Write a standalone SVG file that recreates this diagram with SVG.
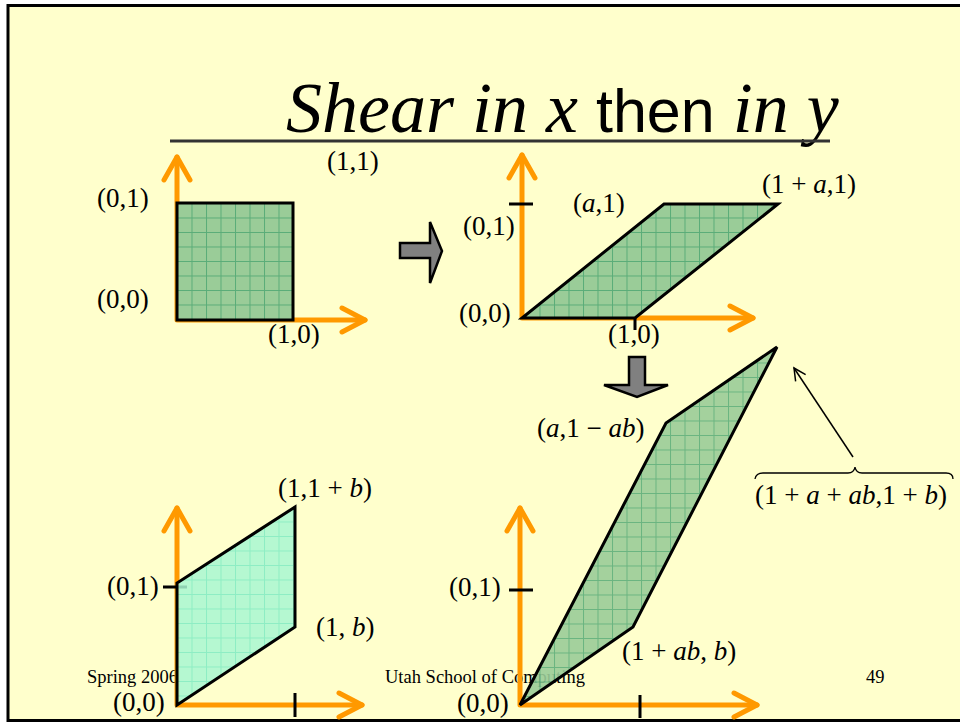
<svg xmlns="http://www.w3.org/2000/svg" width="960" height="723" viewBox="0 0 960 723">
<style>
.lbl{font-family:"Liberation Serif","Times New Roman",serif;font-size:27px;fill:#000}
.it{font-style:italic}
.foot{font-family:"Liberation Serif","Times New Roman",serif;font-size:18.5px;fill:#000}
.axis{stroke:#FF9900;stroke-width:5;fill:none;stroke-linejoin:round;stroke-linecap:round}
.head{stroke:#FF9900;stroke-width:5;fill:none;stroke-linejoin:round;stroke-linecap:round}
.tick{stroke:#000;stroke-width:3;fill:none}
.shape{stroke:#000;stroke-width:3;stroke-linejoin:miter}
.block{fill:#808080;stroke:#000;stroke-width:2.5;stroke-linejoin:miter}
</style>
<defs>
<pattern id="gridG" patternUnits="userSpaceOnUse" x="177" y="203" width="14.5" height="14.5">
<rect width="14.5" height="14.5" fill="#9ACC98"/>
<path d="M0,0.5 H14.5 M0.5,0 V14.5" stroke="#3E9E6A" stroke-width="1" opacity="0.7"/>
</pattern>
<pattern id="gridA" patternUnits="userSpaceOnUse" x="177" y="507" width="14.5" height="14.5">
<rect width="14.5" height="14.5" fill="#A8F7D2"/>
<path d="M0,0.5 H14.5 M0.5,0 V14.5" stroke="#6EE8BE" stroke-width="1" opacity="0.8"/>
</pattern>
<marker id="thin" markerUnits="userSpaceOnUse" markerWidth="20" markerHeight="20" refX="0" refY="0" viewBox="-15 -10 20 20" orient="auto">
<path d="M-12,-6 L0,0 L-12,6" fill="none" stroke="#000" stroke-width="1.5"/>
</marker>
</defs>

<rect x="0" y="0" width="960" height="723" fill="#FFFFFF"/>
<rect id="frame" x="8" y="5.5" width="960" height="715" fill="#FFFFCC" stroke="#000" stroke-width="3"/>

<g id="title">
<text x="286" y="132" font-size="72" font-family="'Liberation Serif','Times New Roman',serif" font-style="italic">Shear in x <tspan font-family="'Liberation Sans',Arial,sans-serif" font-style="normal" font-size="61">then</tspan> in y</text>
<line x1="170" y1="141" x2="830" y2="141" stroke="#333" stroke-width="3"/>
</g>

<g id="footer">
<text class="foot" x="87" y="683">Spring 2006</text>
<text class="foot" x="385" y="683">Utah School of Computing</text>
<text class="foot" x="866" y="683">49</text>
</g>

<!-- Top-left: unit square -->
<g id="panel-original">
<g id="axes-tl">
<path class="axis" d="M177,320 V157 M177,320 H365"/>
<path class="head" d="M164,180 L177,157 L190,180 M342,308 L365,320 L342,332"/>
</g>
<rect id="square" class="shape" x="177" y="203" width="116" height="117" fill="url(#gridG)"/>
<text class="lbl" x="327" y="170" font-size="24">(1,1)</text>
<text class="lbl" x="97" y="207">(0,1)</text>
<text class="lbl" x="97" y="308">(0,0)</text>
<text class="lbl" x="268" y="343">(1,0)</text>
</g>

<!-- Top-right: shear in x -->
<g id="panel-shear-x">
<g id="axes-tr">
<path class="axis" d="M522,318 V155 M522,318 H753"/>
<path class="head" d="M509,178 L522,155 L535,178 M730,306 L753,318 L730,330"/>
<path class="tick" d="M509,204 H533 M635,307 V330"/>
</g>
<polygon id="shear-x-shape" class="shape" points="522,318 635,318 778,204 664,204" fill="url(#gridG)"/>
<text class="lbl" x="463" y="235">(0,1)</text>
<text class="lbl" x="573" y="212">(<tspan class="it">a</tspan>,1)</text>
<text class="lbl" x="762" y="193">(1 + <tspan class="it">a</tspan>,1)</text>
<text class="lbl" x="459" y="322">(0,0)</text>
<text class="lbl" x="608" y="343">(1,0)</text>
</g>

<!-- Bottom-left: shear in y -->
<g id="panel-shear-y">
<g id="axes-bl">
<path class="axis" d="M177,705 V508 M177,705 H362"/>
<path class="head" d="M164,531 L177,508 L190,531 M339,693 L362,705 L339,717"/>
<path class="tick" d="M163,587 H187 M295,693 V717"/>
</g>
<polygon id="shear-y-shape" class="shape" points="177,705 295,627 295,507 177,583" fill="url(#gridA)" fill-opacity="0.85"/>
<text class="lbl" x="278" y="497">(1,1 + <tspan class="it">b</tspan>)</text>
<text class="lbl" x="107" y="595">(0,1)</text>
<text class="lbl" x="316" y="636">(1, <tspan class="it">b</tspan>)</text>
<text class="lbl" x="113" y="711">(0,0)</text>
</g>

<!-- Bottom-right: shear in x then in y -->
<g id="panel-shear-xy">
<g id="axes-br">
<path class="axis" d="M520,705 V508 M520,705 H757"/>
<path class="head" d="M507,531 L520,508 L533,531 M734,693 L757,705 L734,717"/>
<path class="tick" d="M509,590 H533 M640,695 V718"/>
</g>
<polygon id="shear-xy-shape" class="shape" points="520,705 633,627 777,347 666,423" fill="url(#gridG)" fill-opacity="0.9"/>
<text class="lbl" x="537" y="437">(<tspan class="it">a</tspan>,1 − <tspan class="it">ab</tspan>)</text>
<text class="lbl" x="622" y="660">(1 + <tspan class="it">ab</tspan>, <tspan class="it">b</tspan>)</text>
<text class="lbl" x="449" y="596">(0,1)</text>
<text class="lbl" x="457" y="712">(0,0)</text>
</g>

<g id="corner-label">
<path d="M755,479 Q756,473 763,473 H848 Q854,473 855,467 Q856,473 862,473 H946 Q953,473 953,479" fill="none" stroke="#000" stroke-width="1.3"/>
<text class="lbl" x="755" y="504">(1 + <tspan class="it">a</tspan> + <tspan class="it">ab</tspan>,1 + <tspan class="it">b</tspan>)</text>
</g>

<g id="connectors">
<path id="arrow-right" class="block" d="M400,243 H430 V222 L442,251 L430,283 V258 H400 Z"/>
<path id="arrow-down" class="block" d="M629,357 H645 V385 H668 L637,397 L604,385 H629 Z"/>
<line id="arrow-annot" x1="853" y1="457" x2="794" y2="368" stroke="#000" stroke-width="1.5" marker-end="url(#thin)"/>
</g>
</svg>
